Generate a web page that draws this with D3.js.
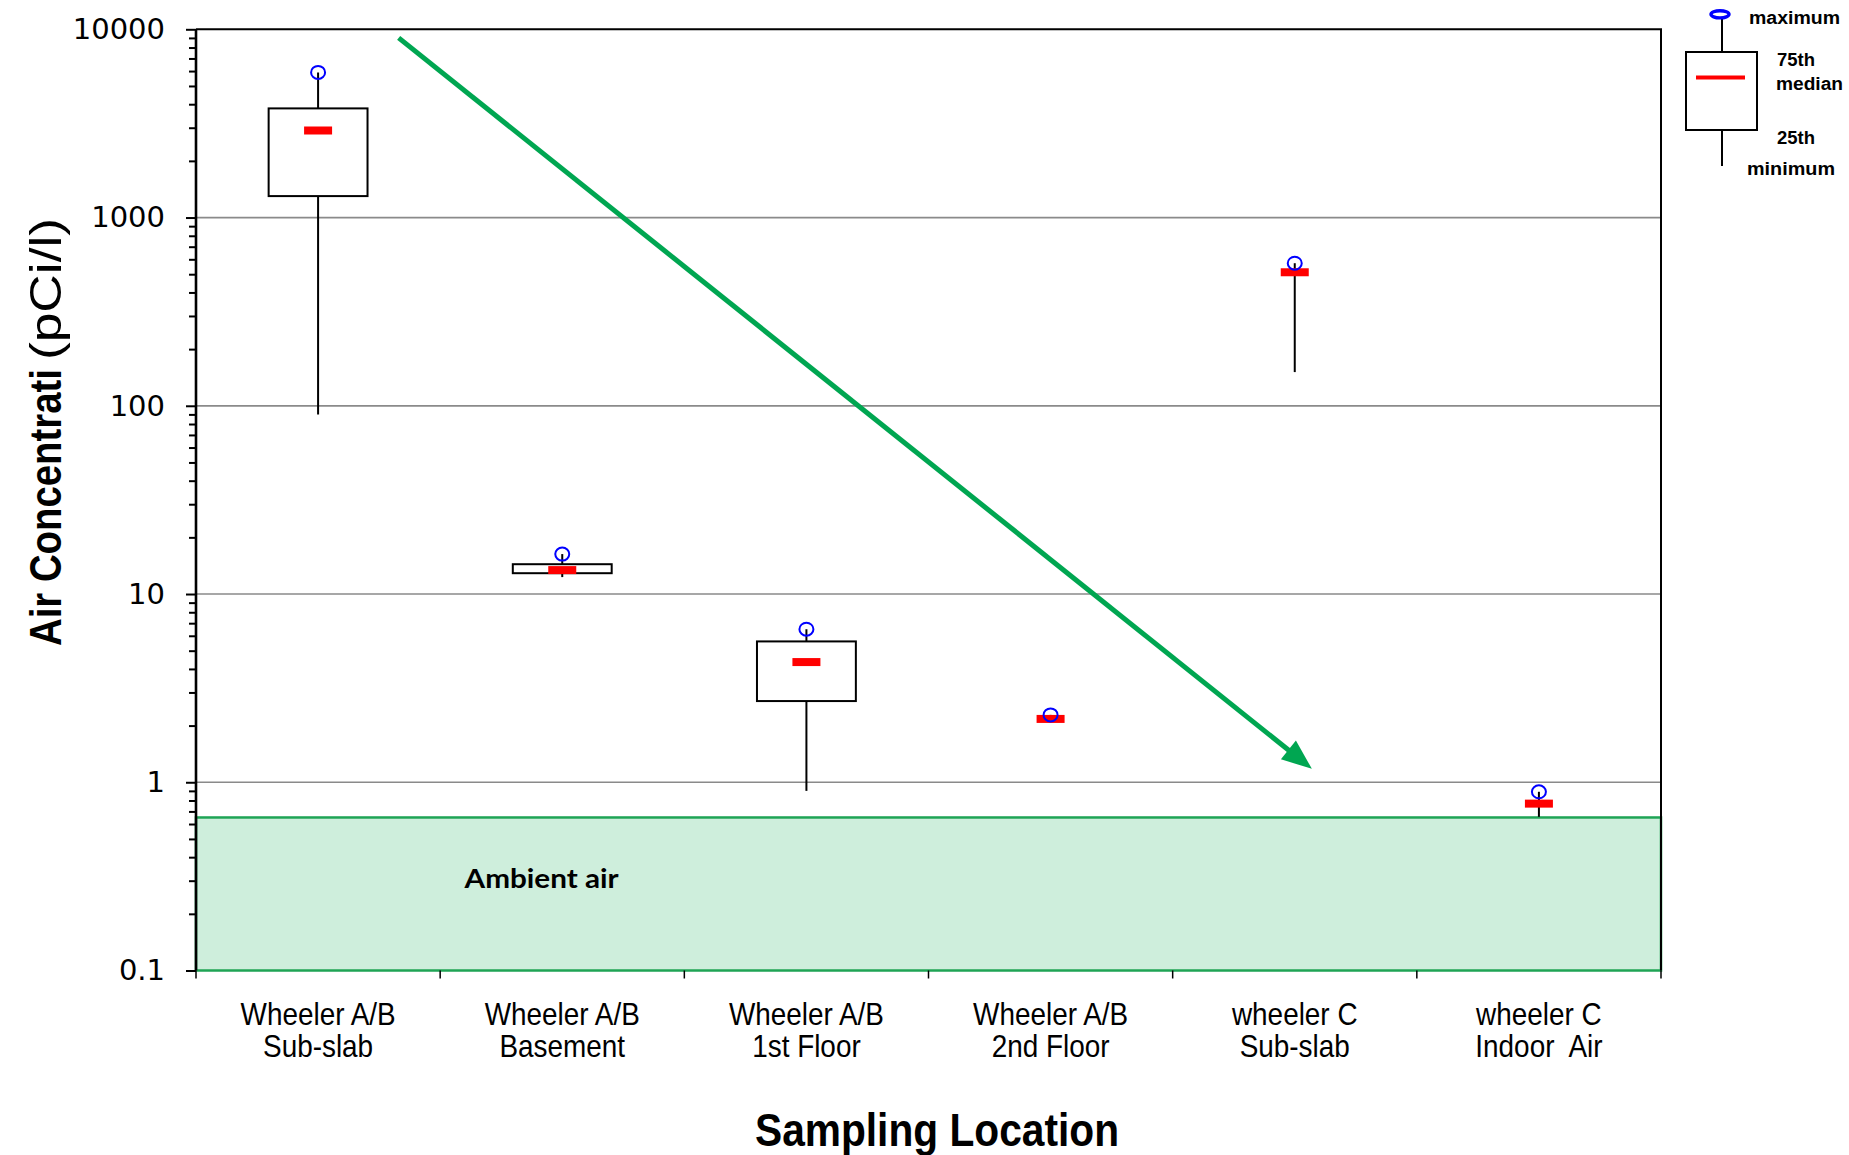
<!DOCTYPE html>
<html>
<head>
<meta charset="utf-8">
<script src="https://cdn.jsdelivr.net/npm/d3@7"></script>
<style>
  html, body { margin: 0; padding: 0; background: #ffffff; }
  svg { display: block; }
</style>
</head>
<body>
<svg id="chart" width="1849" height="1155"></svg>
<script>
// Sampling locations (two-line category labels)
const locationTop = ["Wheeler A/B", "Wheeler A/B", "Wheeler A/B", "Wheeler A/B", "wheeler C", "wheeler C"];
const locationBottom = ["Sub-slab", "Basement", "1st Floor", "2nd Floor", "Sub-slab", "Indoor  Air"];

// Box-plot statistics, pCi/l
const maxValues    = [5900, 16.3, 6.5, 2.28, 572, 0.89];
const q3Values     = [3800, 14.4, 5.6, 2.17, 512, 0.77];
const medianValues = [2900, 13.4, 4.35, 2.17, 512, 0.77];
const q1Values     = [1300, 12.9, 2.7, 2.17, 512, 0.77];
const minValues    = [90, 12.3, 0.9, 2.17, 151, 0.655];

// Axis ticks
const yTickValues = [0.1, 1, 10, 100, 1000, 10000];
const yTickLabels = ["0.1", "1", "10", "100", "1000", "10000"];

// Ambient air background level, pCi/l
const ambientLevel = 0.65;

// Trend arrow, in (category index, concentration) space
const trendStart = [0.33, 9000];
const trendEnd = [4.07, 1.18];

const svg = d3.select("#chart");
const plot = { left: 196, right: 1661, top: 29.3, bottom: 970.5 };
const sansFont = "'Liberation Sans', Arial, Helvetica, sans-serif";

const categories = locationTop.map((t, i) => i);
const x = d3.scaleBand().domain(categories).range([plot.left, plot.right]).padding(0);
const xPos = d3.scaleLinear().domain([-0.5, categories.length - 0.5]).range([plot.left, plot.right]);
const y = d3.scaleLog().domain([0.1, 10000]).range([plot.bottom, plot.top]);

const boxes = categories.map(i => ({
  i, max: maxValues[i], q3: q3Values[i], median: medianValues[i], q1: q1Values[i], min: minValues[i]
}));

// Ambient air band
svg.append("rect")
  .attr("x", plot.left)
  .attr("y", y(ambientLevel))
  .attr("width", plot.right - plot.left)
  .attr("height", y(0.1) - y(ambientLevel))
  .attr("fill", "#ceeedc")
  .attr("stroke", "#1fa455")
  .attr("stroke-width", 2.5);

svg.append("text")
  .attr("x", xPos(0.6))
  .attr("y", y(ambientLevel) + 71)
  .attr("font-family", "Lato, 'Open Sans', sans-serif")
  .attr("font-weight", "bold")
  .attr("font-size", 27)
  .attr("textLength", 154)
  .attr("lengthAdjust", "spacingAndGlyphs")
  .attr("fill", "#000")
  .text("Ambient air");

// Horizontal gridlines at decades
svg.append("g")
  .selectAll("line")
  .data(yTickValues.filter(v => v > 0.1 && v < 10000))
  .join("line")
  .attr("x1", plot.left)
  .attr("x2", plot.right)
  .attr("y1", d => y(d))
  .attr("y2", d => y(d))
  .attr("stroke", "#8a8a8a")
  .attr("stroke-width", 1.7);

// Top and right frame
svg.append("path")
  .attr("d", `M${plot.left},${plot.top}H${plot.right}V${plot.bottom}`)
  .attr("fill", "none")
  .attr("stroke", "#000")
  .attr("stroke-width", 2);

// Trend arrow
(function drawArrow() {
  const x0 = xPos(trendStart[0]), y0 = y(trendStart[1]);
  const x1 = xPos(trendEnd[0]), y1 = y(trendEnd[1]);
  const ang = Math.atan2(y1 - y0, x1 - x0);
  const headLen = 30, headHalf = 12;
  const bx = x1 - headLen * Math.cos(ang), by = y1 - headLen * Math.sin(ang);
  const nx = -Math.sin(ang), ny = Math.cos(ang);
  svg.append("line")
    .attr("x1", x0).attr("y1", y0)
    .attr("x2", bx + 2 * Math.cos(ang)).attr("y2", by + 2 * Math.sin(ang))
    .attr("stroke", "#00a651")
    .attr("stroke-width", 5);
  svg.append("path")
    .attr("d", `M${x1},${y1}L${bx + nx * headHalf},${by + ny * headHalf}L${bx - nx * headHalf},${by - ny * headHalf}Z`)
    .attr("fill", "#00a651");
})();

// Box plots
const boxWidth = x.bandwidth() * 0.405;
const cx = d => x(d.i) + x.bandwidth() / 2;
const g = svg.append("g").selectAll("g").data(boxes).join("g");

g.append("line")
  .attr("x1", cx).attr("x2", cx)
  .attr("y1", d => y(d.max))
  .attr("y2", d => y(d.min))
  .attr("stroke", "#000")
  .attr("stroke-width", 2);

g.filter(d => d.q3 > d.q1).append("rect")
  .attr("x", d => cx(d) - boxWidth / 2)
  .attr("y", d => y(d.q3))
  .attr("width", boxWidth)
  .attr("height", d => y(d.q1) - y(d.q3))
  .attr("fill", "#fff")
  .attr("stroke", "#000")
  .attr("stroke-width", 2);

g.append("rect")
  .attr("x", d => cx(d) - 14)
  .attr("y", d => y(d.median) - 4)
  .attr("width", 28)
  .attr("height", 8)
  .attr("fill", "#ff0000");

g.append("ellipse")
  .attr("cx", cx)
  .attr("cy", d => y(d.max))
  .attr("rx", 7)
  .attr("ry", 6.5)
  .attr("fill", "none")
  .attr("stroke", "#0000ff")
  .attr("stroke-width", 2);

// Y axis: decade labels plus minor log ticks
const minorTicks = [];
for (let e = -1; e < 4; e++) {
  for (let m = 2; m <= 9; m++) minorTicks.push(m * Math.pow(10, e));
}
svg.append("g")
  .attr("transform", `translate(${plot.left},0)`)
  .call(d3.axisLeft(y).tickValues(minorTicks).tickSize(7).tickFormat(""))
  .call(a => a.select(".domain").remove())
  .call(a => a.selectAll("line").attr("stroke", "#000").attr("stroke-width", 2));

svg.append("g")
  .attr("transform", `translate(${plot.left},0)`)
  .call(d3.axisLeft(y).tickValues(yTickValues).tickSize(10).tickPadding(21)
    .tickFormat((d, i) => yTickLabels[i]))
  .call(a => a.select(".domain").attr("stroke", "#000").attr("stroke-width", 2.6)
    .attr("d", `M0,${plot.bottom}V${plot.top}`))
  .call(a => a.selectAll("line").attr("stroke", "#000").attr("stroke-width", 2))
  .call(a => a.selectAll("text")
    .attr("font-family", "'DejaVu Sans', Verdana, sans-serif")
    .attr("font-size", 29)
    .attr("fill", "#000"));

// X axis ticks at category boundaries
svg.append("g")
  .selectAll("line")
  .data(d3.range(categories.length + 1))
  .join("line")
  .attr("x1", d => xPos(d - 0.5))
  .attr("x2", d => xPos(d - 0.5))
  .attr("y1", plot.bottom)
  .attr("y2", plot.bottom + 8)
  .attr("stroke", "#000")
  .attr("stroke-width", 1.5);

// Category labels
const labels = svg.append("g").selectAll("g").data(categories).join("g")
  .attr("transform", i => `translate(${x(i) + x.bandwidth() / 2},0) scale(0.9,1)`);
labels.append("text")
  .attr("y", 1025)
  .text(i => locationTop[i]);
labels.append("text")
  .attr("y", 1057)
  .text(i => locationBottom[i]);
labels.selectAll("text")
  .attr("text-anchor", "middle")
  .attr("xml:space", "preserve")
  .style("white-space", "pre")
  .attr("font-family", sansFont)
  .attr("font-size", 31)
  .attr("fill", "#000");

// Axis titles
svg.append("text")
  .attr("x", 937)
  .attr("y", 1146)
  .attr("text-anchor", "middle")
  .attr("font-family", sansFont)
  .attr("font-weight", "bold")
  .attr("font-size", 47)
  .attr("textLength", 364)
  .attr("lengthAdjust", "spacingAndGlyphs")
  .text("Sampling Location");

svg.append("text")
  .attr("transform", "translate(61,646) rotate(-90)")
  .attr("font-family", sansFont)
  .attr("font-weight", "bold")
  .attr("font-size", 44)
  .attr("textLength", 277)
  .attr("lengthAdjust", "spacingAndGlyphs")
  .text("Air Concentrati");

svg.append("text")
  .attr("transform", "translate(61,360) rotate(-90)")
  .attr("font-family", sansFont)
  .attr("font-size", 44)
  .attr("textLength", 142)
  .attr("lengthAdjust", "spacingAndGlyphs")
  .text("(pCi/l)");

// Legend explaining the box-plot glyph
const legend = svg.append("g");
legend.append("line").attr("x1", 1722).attr("x2", 1722).attr("y1", 18).attr("y2", 52)
  .attr("stroke", "#000").attr("stroke-width", 2);
legend.append("line").attr("x1", 1722).attr("x2", 1722).attr("y1", 130).attr("y2", 166)
  .attr("stroke", "#000").attr("stroke-width", 2);
legend.append("rect").attr("x", 1686).attr("y", 52).attr("width", 71).attr("height", 78)
  .attr("fill", "#fff").attr("stroke", "#000").attr("stroke-width", 2);
legend.append("rect").attr("x", 1696).attr("y", 75.5).attr("width", 49).attr("height", 4)
  .attr("fill", "#ff0000");
legend.append("ellipse").attr("cx", 1720).attr("cy", 14.3).attr("rx", 9).attr("ry", 3.6)
  .attr("fill", "none").attr("stroke", "#0000ff").attr("stroke-width", 3.4);

const legendText = [
  { t: "maximum", x: 1749, y: 24, w: 91 },
  { t: "75th", x: 1777, y: 66, w: 38 },
  { t: "median", x: 1776, y: 90, w: 67 },
  { t: "25th", x: 1777, y: 144, w: 38 },
  { t: "minimum", x: 1747, y: 175, w: 88 }
];
legend.selectAll("text").data(legendText).join("text")
  .attr("x", d => d.x)
  .attr("y", d => d.y)
  .attr("font-family", sansFont)
  .attr("font-weight", "bold")
  .attr("font-size", 18)
  .attr("textLength", d => d.w)
  .attr("lengthAdjust", "spacingAndGlyphs")
  .text(d => d.t);
</script>
</body>
</html>
